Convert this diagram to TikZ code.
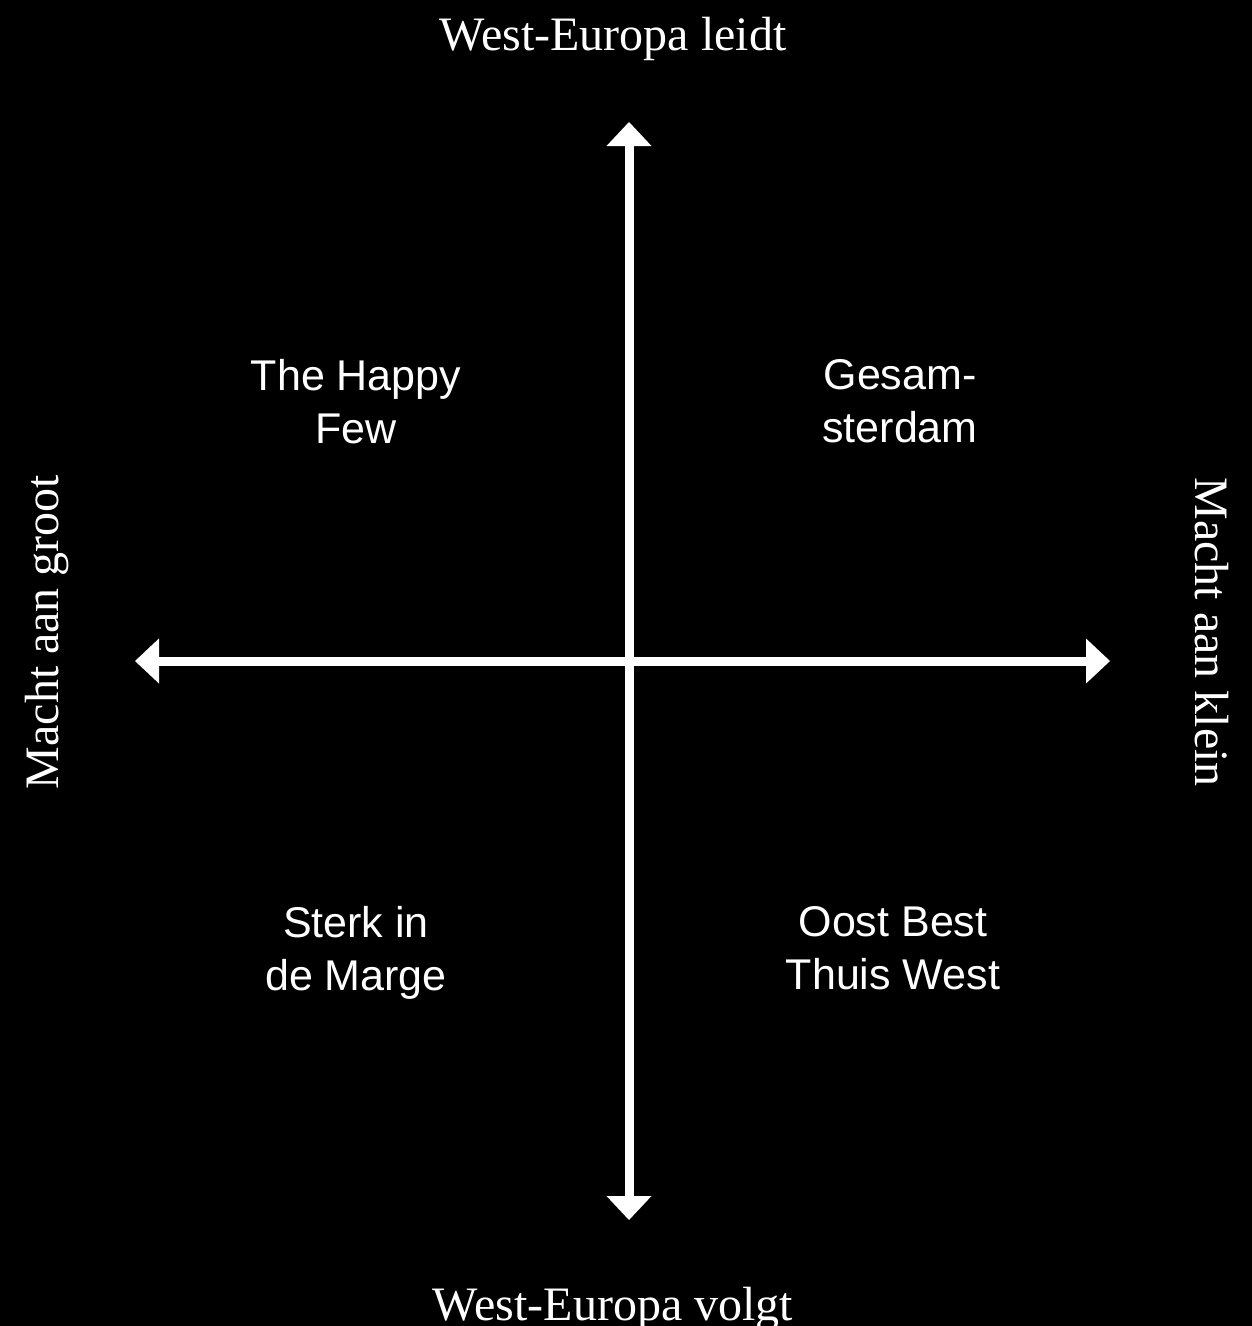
\documentclass[tikz,border=0pt]{standalone}
\usepackage{fontspec}
\setmainfont{Liberation Serif}
\newfontfamily\quadfont{Liberation Sans}
\usetikzlibrary{arrows.meta}
\tikzset{
  axis/.style={draw=white, line width=9pt,
    {Triangle[width=45pt,length=24pt,line width=0pt]}-{Triangle[width=45pt,length=24pt,line width=0pt]}},
  axislabel/.style={text=white, font=\fontsize{48}{58}\selectfont, inner sep=0pt, anchor=base},
  quad/.style={text=white, font=\quadfont\fontsize{43}{53}\selectfont, align=center, inner sep=0pt}
}
\begin{document}
\begin{tikzpicture}[x=1pt,y=-1pt]
\fill[black] (0,0) rectangle (1252,1326);
\useasboundingbox (0,0) rectangle (1252,1326);
\coordinate (top) at (629,122);
\coordinate (bottom) at (629,1220);
\coordinate (left) at (135,661);
\coordinate (right) at (1110,661);
\draw[axis] (bottom) -- (top);
\draw[axis] (left) -- (right);
\node[axislabel] (lt) at (613,50) {West-Europa leidt};
\node[axislabel] (lb) at (613,1320) {West-Europa volgt};
\node[axislabel, rotate=90] (ll) at (58,632) {Macht aan groot};
\node[axislabel, rotate=-90] (lr) at (1195,632) {Macht aan klein};
\node[quad] (q1) at (356,402) {The Happy\\Few};
\node[quad] (q2) at (900,401) {Gesam-\\sterdam};
\node[quad] (q3) at (356,953) {Sterk in\\de Marge};
\node[quad] (q4) at (893,948) {Oost Best\\Thuis West};
\end{tikzpicture}
\end{document}
